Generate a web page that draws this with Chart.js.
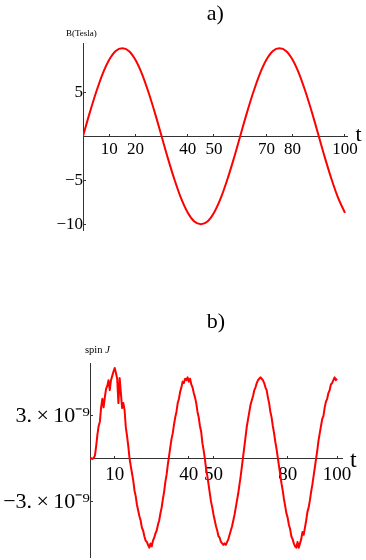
<!DOCTYPE html>
<html>
<head>
<meta charset="utf-8">
<title>B(Tesla) and spin J versus t</title>
<script src="https://cdn.jsdelivr.net/npm/chart.js@4.4.1/dist/chart.umd.min.js"></script>
<style>
  html, body { margin: 0; padding: 0; background: #fff; overflow: hidden; }
  body { width: 366px; height: 560px; position: relative; }
  canvas { position: absolute; left: 0; }
  #chartA { top: 0; }
  #chartB { top: 300px; }
</style>
</head>
<body>
<canvas id="chartA" width="366" height="255"></canvas>
<canvas id="chartB" width="366" height="290"></canvas>
<script>
// a) magnetic field B(Tesla) against t
const fieldT = [0, 2.5, 5, 7.5, 10, 12.5, 15, 17.5, 20, 22.5, 25, 27.5, 30, 32.5, 35, 37.5, 40,
    42.5, 45, 47.5, 50, 52.5, 55, 57.5, 60, 62.5, 65, 67.5, 70, 72.5, 75, 77.5, 80, 82.5, 85,
    87.5, 90, 92.5, 95, 97.5, 100];
const fieldB = [0, 2.6, 5, 7.1, 8.7, 9.7, 10, 9.7, 8.7, 7.1, 5, 2.6, 0, -2.6, -5, -7.1, -8.7,
    -9.7, -10, -9.7, -8.7, -7.1, -5, -2.6, 0, 2.6, 5, 7.1, 8.7, 9.7, 10, 9.7, 8.7, 7.1, 5,
    2.6, 0, -2.6, -5, -7.1, -8.7];
const fieldTicksX = [10, 20, 40, 50, 70, 80, 100];
const fieldTicksY = [-10, -5, 5];

// b) spin J against t, values in units of 1e-9, one sample every 0.5 of t
const spinStep = 0.5;
const spinJ = [
    0, 0.05, 0, 0.05, 0.25, 0.9, 1.7, 2.3, 2.6, 3.6, 4.2, 3.6, 4.3, 4.9, 5.1, 5.5, 4.8, 5.5, 5.8, 6.1,
    6.35, 6.0, 5.6, 3.9, 5.65, 4.6, 3.55, 3.9, 3.4, 2.2, 1.6, 0.9, 0.05, -0.5, -1.0, -1.5, -2.2, -2.6, -3.2, -3.6,
    -4.0, -4.3, -4.8, -5.0, -5.4, -5.7, -5.8, -6.0, -6.2, -5.9, -6.1, -5.7, -5.5, -5.2, -5.0, -4.6, -4.3, -3.8, -3.4, -2.8,
    -2.3, -1.6, -1.1, -0.4, 0.2, 0.8, 1.4, 1.8, 2.4, 2.9, 3.3, 3.9, 4.2, 4.7, 5.0, 5.4, 5.3, 5.6, 5.5, 5.7,
    5.4, 5.6, 5.2, 5.0, 4.6, 4.3, 3.9, 3.3, 2.9, 2.3, 1.9, 1.1, 0.6, 0.0, -0.7, -1.2, -1.8, -2.4, -3.0, -3.4,
    -3.9, -4.3, -4.7, -5.0, -5.4, -5.5, -5.8, -5.9, -6.0, -5.9, -6.0, -5.8, -5.6, -5.3, -5.0, -4.7, -4.3, -3.9, -3.4, -2.9,
    -2.4, -1.8, -1.2, -0.5, 0.2, 0.9, 1.6, 2.3, 2.8, 3.3, 3.8, 4.1, 4.4, 4.8, 5.0, 5.3, 5.5, 5.6, 5.7, 5.6,
    5.5, 5.3, 5.0, 4.8, 4.3, 3.9, 3.3, 2.9, 2.3, 1.8, 1.2, 0.7, 0.1, -0.5, -1.1, -1.7, -2.2, -2.8, -3.3, -3.8,
    -4.1, -4.6, -4.9, -5.4, -5.6, -5.9, -6.1, -6.2, -5.8, -6.2, -5.9, -5.6, -5.1, -5.3, -4.8, -4.3, -3.7, -3.4, -2.9, -2.3,
    -1.8, -1.2, -0.6, 0.0, 0.6, 1.3, 1.8, 2.3, 2.8, 3.0, 3.6, 4.0, 4.2, 4.6, 4.8, 5.2, 5.3, 5.5, 5.7, 5.5,
    5.6
];
const spinTicksX = [10, 40, 50, 80, 100];
const spinTicksY = [-3, 3];

const SERIF = '"Liberation Serif", "Times New Roman", serif';
const MINUS = '\u2212';

// "t" at the end of the x axis and the quantity name over the y axis
const axisNames = {
    id: 'axisNames',
    afterDraw(chart, args, opts) {
        const { ctx, scales: { x, y } } = chart;
        const x0 = x.getPixelForValue(0);
        const y0 = y.getPixelForValue(0);
        ctx.save();
        ctx.fillStyle = '#000';
        ctx.textBaseline = 'alphabetic';
        ctx.textAlign = 'left';
        ctx.font = opts.tSize + 'px ' + SERIF;
        ctx.fillText('t', x.right + opts.tGap, y0 + opts.tDrop);
        let px = x0 + opts.nameShift;
        opts.name.forEach(part => {
            ctx.font = (part.italic ? 'italic ' : '') + opts.nameSize + 'px ' + SERIF;
            ctx.fillText(part.text, px, y.top - opts.nameRise);
            px += ctx.measureText(part.text).width;
        });
        ctx.restore();
    }
};

function scaleFor(axis, o) {
    return {
        type: 'linear',
        position: axis === 'x' ? { y: 0 } : { x: 0 },
        min: o.min,
        max: o.max,
        afterBuildTicks: scale => { scale.ticks = o.ticks.map(v => ({ value: v })); },
        grid: { display: true, drawOnChartArea: false, drawTicks: true, tickLength: -3, color: '#333', lineWidth: 1 },
        border: { display: true, color: '#333', width: 1 },
        ticks: {
            autoSkip: false,
            maxRotation: 0,
            padding: o.padding,
            color: '#000',
            font: { family: SERIF, size: o.size },
            callback: o.format
        }
    };
}

function titleFor(text, top, bottom) {
    return {
        display: true,
        text: text,
        fullSize: false,
        color: '#000',
        font: { family: SERIF, size: 22, weight: 'normal' },
        padding: { top: top, bottom: bottom }
    };
}

function signed(v) {
    return (v < 0 ? MINUS : '') + Math.abs(v);
}

// chart a)
new Chart(document.getElementById('chartA'), {
    type: 'line',
    data: {
        datasets: [{
            data: fieldT.map((t, i) => ({ x: t, y: fieldB[i] })),
            borderColor: '#ff0000',
            borderWidth: 2,
            pointRadius: 0,
            cubicInterpolationMode: 'monotone',
            fill: false
        }]
    },
    options: {
        responsive: false,
        animation: false,
        events: [],
        layout: { padding: { left: 83, right: 18.4, top: 0, bottom: 24.6 } },
        scales: {
            x: scaleFor('x', { min: 0, max: 101, ticks: fieldTicksX, padding: 6.3, size: 17, format: v => String(v) }),
            y: scaleFor('y', { min: -10.7, max: 10.6, ticks: fieldTicksY, padding: 6, size: 17, format: signed })
        },
        plugins: {
            legend: { display: false },
            tooltip: { enabled: false },
            title: titleFor('a)', 1, 15.6),
            axisNames: { tSize: 22, tGap: 8, tDrop: 5, name: [{ text: 'B(Tesla)' }], nameSize: 9, nameShift: -17, nameRise: 7.5 }
        }
    },
    plugins: [axisNames]
});

// chart b)
new Chart(document.getElementById('chartB'), {
    type: 'line',
    data: {
        datasets: [{
            data: spinJ.map((v, i) => ({ x: i * spinStep, y: v })),
            borderColor: '#ff0000',
            borderWidth: 2,
            borderJoinStyle: 'round',
            pointRadius: 0,
            tension: 0,
            fill: false
        }]
    },
    options: {
        responsive: false,
        animation: false,
        events: [],
        layout: { padding: { left: 90, right: 24, top: 0, bottom: 33 } },
        scales: {
            x: scaleFor('x', { min: 0, max: 102, ticks: spinTicksX, padding: 8, size: 19, format: v => String(v) }),
            y: scaleFor('y', {
                min: -6.85, max: 6.7, ticks: spinTicksY, padding: 8, size: 22,
                format: v => signed(v) + '.\u2009\u00d7\u200910\u207b\u2079'
            })
        },
        plugins: {
            legend: { display: false },
            tooltip: { enabled: false },
            title: titleFor('b)', 8.8, 27.8),
            axisNames: { tSize: 24, tGap: 8, tDrop: 8, name: [{ text: 'spin ' }, { text: 'J', italic: true }], nameSize: 10.5, nameShift: -5, nameRise: 10.5 }
        }
    },
    plugins: [axisNames]
});
</script>
</body>
</html>
